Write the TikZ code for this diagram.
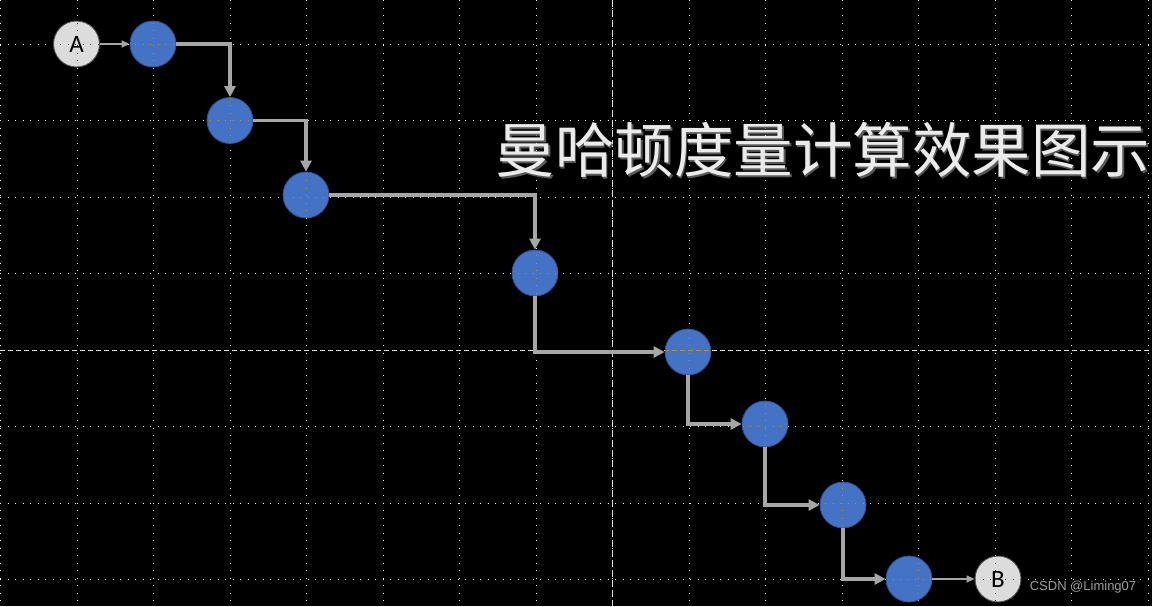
\documentclass[tikz,border=0pt]{standalone}
\usepackage{fontspec}
\setmainfont{Carlito}
\newfontfamily\cjkfont{Noto Sans CJK SC}
\newfontfamily\wmfont{Liberation Sans}
\usetikzlibrary{arrows.meta}
\definecolor{bluefill}{HTML}{4472C4}
\definecolor{blueedge}{HTML}{2F528F}
\definecolor{greyfill}{HTML}{DCDCDC}
\definecolor{greyedge}{HTML}{505050}
\definecolor{linkgrey}{HTML}{A6A6A6}
\definecolor{invblue}{HTML}{BB8D3B}
\definecolor{invgrey}{HTML}{232323}
\newcommand{\mygridlines}[1]{%
  \foreach \gx in {0,76.5,...,1150} {\draw[griddot,#1] (\gx+0.5,0) -- (\gx+0.5,606);}
  \foreach \gy in {44,120.5,197,273.5,426.5,503,579.5} {\draw[griddot,#1] (0,\gy) -- (1152,\gy);}
  \draw[griddash,#1] (0,350) -- (1152,350);
  \draw[griddashv,#1] (612,0) -- (612,606);
}
\begin{document}
\begin{tikzpicture}[x=1pt,y=-1pt,
  griddot/.style={white,line width=1pt,dash pattern=on 1pt off 6.5pt},
  griddash/.style={white!88!black,line width=1pt,dash pattern=on 5pt off 3pt},
  griddashv/.style={white!88!black,line width=1pt,dash pattern=on 7pt off 3pt},
  bnode/.style={circle,minimum size=46pt,inner sep=0pt,fill=bluefill,draw=blueedge,line width=0.8pt},
  gnode/.style={circle,minimum size=46pt,inner sep=0pt,fill=greyfill,draw=greyedge,line width=0.9pt,font=\fontsize{25}{25}\selectfont},
  thick link/.style={linkgrey,line width=3.3pt,-{Triangle[length=11pt,width=11pt]}},
  thin link/.style={linkgrey,line width=1.6pt,-{Triangle[length=8pt,width=7pt]}}]
\useasboundingbox[fill=black] (0,0) rectangle (1152,606);
\mygridlines{}
\node[gnode] (a) at (76.5,44) {A};
\node[bnode] (n1) at (153,44) {};
\node[bnode] (n2) at (230,120.5) {};
\node[bnode] (n3) at (306,195) {};
\node[bnode] (n4) at (535,273) {};
\node[bnode] (n5) at (688,352) {};
\node[bnode] (n6) at (765,424) {};
\node[bnode] (n7) at (843,505) {};
\node[bnode] (n8) at (909,579) {};
\node[gnode] (b) at (998,579) {B};
\foreach \n in {n1,n2,n3,n4,n5,n6,n7,n8} {
  \begin{scope}
    \clip (\n.center) circle (22.6);
    \mygridlines{invblue}
  \end{scope}
}
\foreach \n in {a,b} {
  \begin{scope}
    \clip (\n.center) circle (22.6);
    \mygridlines{invgrey}
  \end{scope}
}
\draw[thin link] (a) -- (n1);
\draw[thick link] (n1.east) -| (n2.north);
\draw[thick link] (n2.east) -| (n3.north);
\draw[thick link] (n3.east) -| (n4.north);
\draw[thick link] (n4.south) |- (n5.west);
\draw[thick link] (n5.south) |- (n6.west);
\draw[thick link] (n6.south) |- (n7.west);
\draw[thick link] (n7.south) |- (n8.west);
\draw[thin link] (n8) -- (b);
\node[font=\cjkfont\fontsize{59.5}{59.5}\selectfont,text=gray!70!black,inner sep=0pt] (titleshadow) at (824.5,151.5) {曼哈顿度量计算效果图示};
\node[font=\cjkfont\fontsize{59.5}{59.5}\selectfont,text=white!92!black,inner sep=0pt] (title) at (823,150) {曼哈顿度量计算效果图示};
\node[font=\wmfont\fontsize{13}{13}\selectfont,text=white!62!black,inner sep=0pt] (wm) at (1083,587) {CSDN @Liming07};
\end{tikzpicture}
\end{document}
